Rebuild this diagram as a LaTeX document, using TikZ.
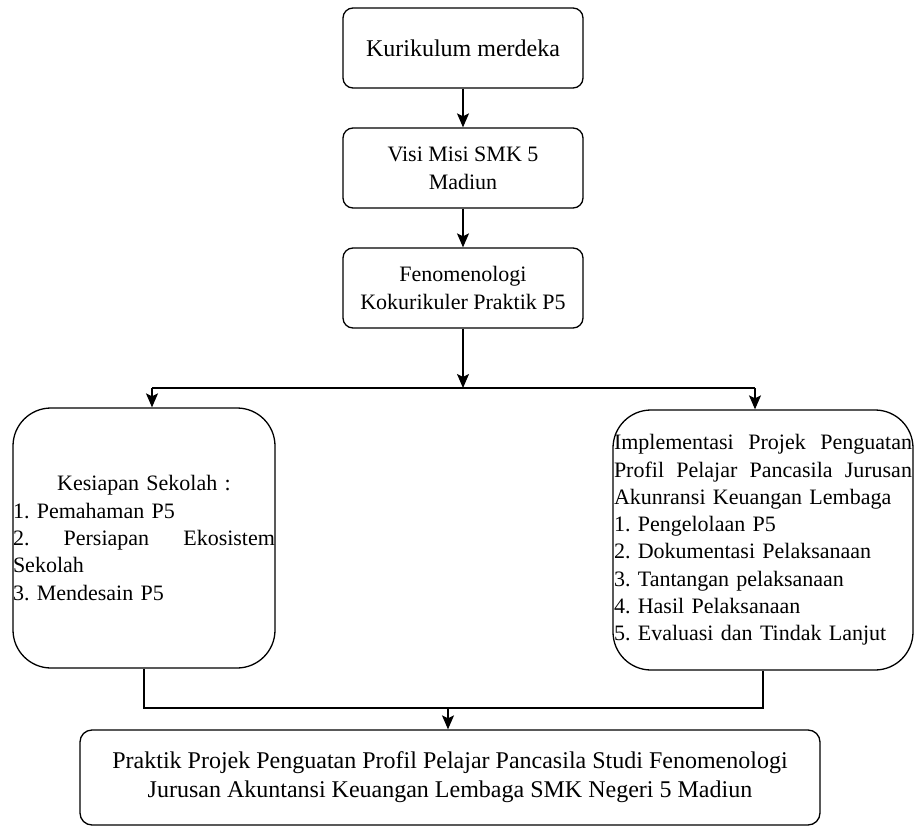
\documentclass[tikz,border=0pt]{standalone}
\usepackage{fontspec}
\setmainfont{Liberation Serif}
\newfontfamily\tnr{Liberation Serif}
\usetikzlibrary{arrows.meta,calc}
\begin{document}
\frenchspacing
\begin{tikzpicture}[x=1pt,y=-1pt,
  line width=1.3pt,
  box/.style={draw, rounded corners=10pt, inner sep=0pt, align=center,
    font=\tnr\fontsize{22}{28}\selectfont},
  bigbox/.style={draw, rounded corners=38pt, inner sep=0pt, align=left,
    minimum height=260pt, font=\tnr\fontsize{22}{27.3}\selectfont},
  arr/.style={-{Stealth[length=14pt,width=12pt,inset=3pt]}}
]
\useasboundingbox (0,0) rectangle (914,827);

\node[box, minimum width=240pt, minimum height=80pt, font=\tnr\fontsize{24}{28}\selectfont] (k) at (463,48) {Kurikulum merdeka};
\node[box, minimum width=240pt, minimum height=80pt] (v) at (463,168) {Visi Misi SMK 5\\Madiun};
\node[box, minimum width=240pt, minimum height=80pt] (f) at (463,288) {Fenomenologi\\Kokurikuler Praktik P5};

\node[bigbox, minimum width=262pt, text width=262pt] (l) at (144,538) {%
\makebox[262pt][c]{Kesiapan Sekolah :}\\
1. Pemahaman P5\\
\makebox[262pt][l]{2.\hfill Persiapan\hfill Ekosistem}\\
Sekolah\\
3. Mendesain P5};

\node[bigbox, minimum width=300pt, text width=298pt] (r) at (763,540) {%
\makebox[298pt][l]{Implementasi\hfill Projek\hfill Penguatan}\\
\makebox[298pt][l]{Profil\hfill Pelajar\hfill Pancasila\hfill Jurusan}\\
Akunransi Keuangan Lembaga\\
1. Pengelolaan P5\\
2. Dokumentasi Pelaksanaan\\
3. Tantangan pelaksanaan\\
4. Hasil Pelaksanaan\\
5. Evaluasi dan Tindak Lanjut};

\node[box, rounded corners=12pt, minimum width=740pt, minimum height=95pt, font=\tnr\fontsize{24}{29}\selectfont] (b) at (450,777.5) {Praktik Projek Penguatan Profil Pelajar Pancasila Studi Fenomenologi\\Jurusan Akuntansi Keuangan Lembaga SMK Negeri 5 Madiun};

\coordinate (j) at (463,388);
\coordinate (a1) at (152,388);
\coordinate (a2) at (755,388);
\coordinate (m) at (448,708);

\draw[arr] (k) -- (v);
\draw[arr] (v) -- (f);
\draw[arr] (f) -- (j);
\draw (a1) -- (a2);
\draw[arr] (a1) -- (l.north -| a1);
\draw[arr] (a2) -- (r.north -| a2);
\draw (l.south) |- (m) -| (r.south);
\draw[arr] (m) -- (b.north -| m);
\end{tikzpicture}
\end{document}
